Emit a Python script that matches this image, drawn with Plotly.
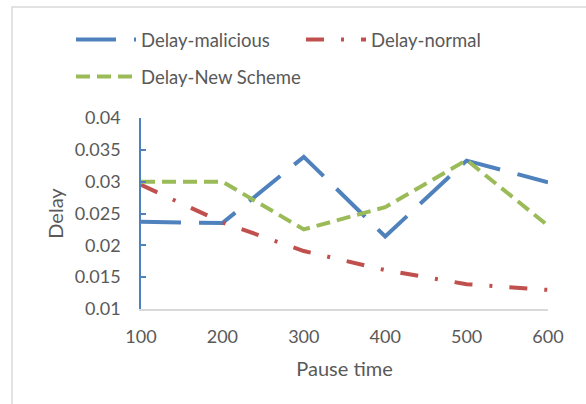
import plotly.graph_objects as go

pause_time = [100, 200, 300, 400, 500, 600]
delay_malicious = [0.0237, 0.0235, 0.0339, 0.0214, 0.0333, 0.0299]
delay_normal = [0.0295, 0.0236, 0.0191, 0.0161, 0.0139, 0.0130]
delay_new_scheme = [0.0300, 0.0300, 0.0225, 0.0260, 0.0334, 0.0231]

x_ticks = [100, 200, 300, 400, 500, 600]
y_ticks = [0.01, 0.015, 0.02, 0.025, 0.03, 0.035, 0.04]
y_tick_text = ["0.01", "0.015", "0.02", "0.025", "0.03", "0.035", "0.04"]

BLUE = "#4F81BD"
RED = "#C0504D"
GREEN = "#9BBB59"
TXT = "#595959"
FONT = "Lato, Open Sans, sans-serif"

fig = go.Figure()
fig.add_trace(go.Scatter(x=pause_time, y=delay_malicious, mode="lines", name="Delay-malicious",
                         line=dict(color=BLUE, width=4, dash="40px,18px"), legend="legend"))
fig.add_trace(go.Scatter(x=pause_time, y=delay_normal, mode="lines", name="Delay-normal",
                         line=dict(color=RED, width=4, dash="18px,17px,3px,17px"), legend="legend"))
fig.add_trace(go.Scatter(x=pause_time, y=delay_new_scheme, mode="lines", name="Delay-New Scheme",
                         line=dict(color=GREEN, width=4, dash="14px,7px"), legend="legend2"))

L, R, T, B = 141, 38, 118, 95
W, H = 586, 404
pw, ph = W - L - R, H - T - B

def px(xp):
    return (xp - L) / pw

def py(yp):
    return (H - B - yp) / ph

LEG_FONT = dict(size=18.5, color=TXT, family=FONT)
fig.update_layout(
    width=W, height=H,
    margin=dict(l=L, r=R, t=T, b=B, autoexpand=False),
    paper_bgcolor="white", plot_bgcolor="white",
    font=dict(family=FONT, color=TXT, size=18),
    showlegend=True,
    legend=dict(orientation="h", x=px(71), y=py(40), xanchor="left", yanchor="middle",
                itemwidth=60, entrywidth=155, font=LEG_FONT, bgcolor="rgba(0,0,0,0)"),
    legend2=dict(orientation="h", x=px(71), y=py(77), xanchor="left", yanchor="middle",
                 itemwidth=60, font=LEG_FONT, bgcolor="rgba(0,0,0,0)"),
    xaxis=dict(range=[100, 600], tickvals=x_ticks, ticktext=[str(v) for v in x_ticks],
               showgrid=False, zeroline=False, showline=True, linecolor="#D9D9D9", linewidth=1.5,
               ticks="", ticklabelstandoff=11, tickfont=dict(size=18, color=TXT, family=FONT),
               title=dict(text="Pause time", font=dict(size=20, color=TXT, family=FONT), standoff=16)),
    yaxis=dict(range=[0.01, 0.04], tickvals=y_ticks, ticktext=y_tick_text,
               showgrid=False, zeroline=False, showline=True, linecolor=BLUE, linewidth=1.5,
               ticks="inside", ticklen=5, tickcolor=BLUE, tickwidth=1.5, ticklabelstandoff=15,
               tickfont=dict(size=18, color=TXT, family=FONT),
               title=dict(text="Delay", font=dict(size=20, color=TXT, family=FONT), standoff=6)),
    shapes=[dict(type="rect", xref="paper", yref="paper", x0=px(12), x1=px(600), y0=py(7), y1=py(420),
                 line=dict(color="#D9D9D9", width=1.5), fillcolor="rgba(0,0,0,0)", layer="below")],
)

fig.write_html("out.html")
